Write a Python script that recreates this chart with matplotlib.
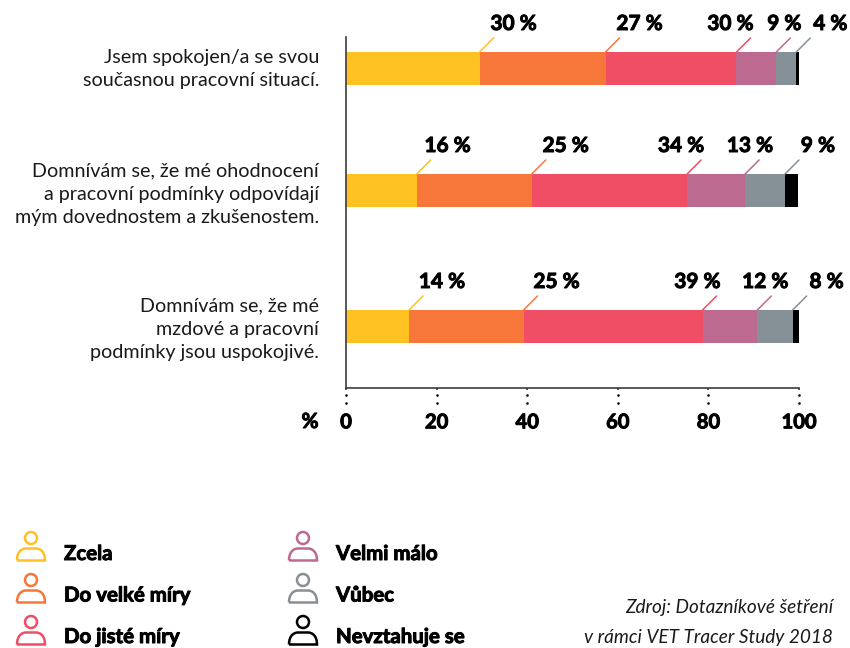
"""Spokojenost absolventů s pracovní situací - skládaný pruhový graf."""

import matplotlib
matplotlib.use('Agg')
import matplotlib.pyplot as plt
import matplotlib.patheffects as pe
from matplotlib.patches import Circle, PathPatch
from matplotlib.path import Path

# data
STATEMENTS = [
    'Jsem spokojen/a se svou\nsoučasnou pracovní situací.',
    'Domnívám se, že mé ohodnocení\na pracovní podmínky odpovídají\nmým dovednostem a zkušenostem.',
    'Domnívám se, že mé\nmzdové a pracovní\npodmínky jsou uspokojivé.',
]
CATEGORIES = ['Zcela', 'Do velké míry', 'Do jisté míry', 'Velmi málo', 'Vůbec', 'Nevztahuje se']
ZCELA = [29.5, 15.6, 13.9]
DO_VELKE_MIRY = [27.8, 25.4, 25.3]
DO_JISTE_MIRY = [28.9, 34.3, 39.5]
VELMI_MALO = [8.8, 12.8, 12.1]
VUBEC = [4.4, 8.8, 7.8]
NEVZTAHUJE_SE = [0.6, 2.9, 1.3]
LABELS = [
    ['30 %', '27 %', '30 %', '9 %', '4 %'],
    ['16 %', '25 %', '34 %', '13 %', '9 %'],
    ['14 %', '25 %', '39 %', '12 %', '8 %'],
]
X_TICKS = [0, 20, 40, 60, 80, 100]
SOURCE_LINES = ['Zdroj: Dotazníkové šetření', 'v rámci VET Tracer Study 2018']

# vzhled
COLORS = ['#FFC222', '#F7773B', '#F04E64', '#BD6A91', '#859097', '#000000']
ROW_Y = [68.5, 190.5, 326.5]
TEXT_Y = [69, 194.5, 329.5]
BAR_H = 33
LEADER = 14
# posun popisku vůči konci odkazové čáry (px)
LABEL_DX = [
    [20, 20, -20, -6, 20],
    [17, 20, -20, -9, 19],
    [19, 19, -19, -6, 20],
]
HEAVY = [pe.withStroke(linewidth=0.7, foreground='black')]
W, H = 850, 648

plt.rcParams['font.family'] = ['Lato', 'DejaVu Sans']
fig = plt.figure(figsize=(W / 100, H / 100), dpi=100)

# osa s pruhy, y je v pixelech obrázku
ax = fig.add_axes([346 / W, (H - 388) / H, 453 / W, 351 / H])
ax.set_xlim(0, 100)
ax.set_ylim(388, 37)
ax.patch.set_alpha(0)

series = [ZCELA, DO_VELKE_MIRY, DO_JISTE_MIRY, VELMI_MALO, VUBEC, NEVZTAHUJE_SE]
left = [0.0] * len(ROW_Y)
for i, (values, color) in enumerate(zip(series, COLORS)):
    ax.barh(ROW_Y, values, left=left, height=BAR_H, color=color, linewidth=0, zorder=2)
    left = [a + b for a, b in zip(left, values)]
    if i == len(series) - 1:
        break
    # odkazové čáry a popisky
    for r, y in enumerate(ROW_Y):
        top = y - BAR_H / 2
        ax.annotate('', xy=(left[r], top), xytext=(LEADER, LEADER), textcoords='offset pixels',
                    annotation_clip=False,
                    arrowprops=dict(arrowstyle='-', color=color, lw=1.1, shrinkA=0, shrinkB=0))
        ax.annotate(LABELS[r][i], xy=(left[r], top),
                    xytext=(LEADER + LABEL_DX[r][i], 28), textcoords='offset pixels',
                    ha='center', va='center', fontsize=15, fontweight='bold', color='black',
                    annotation_clip=False, path_effects=HEAVY)

for side in ['top', 'right']:
    ax.spines[side].set_visible(False)
for side in ['left', 'bottom']:
    ax.spines[side].set_color('#3c3c3c')
    ax.spines[side].set_linewidth(1.2)

ax.set_yticks([])
ax.set_xticks(X_TICKS)
ax.set_xticklabels([str(t) for t in X_TICKS], fontsize=14.5, fontweight='bold',
                   path_effects=HEAVY)
ax.tick_params(axis='x', length=1.5, width=1.2, color='#3c3c3c', pad=16)
# tečkované prodloužení značek
for t in X_TICKS:
    ax.plot([t, t], [395, 403], ls='none', marker='o', ms=1.9, color='#111111',
            mec='none', clip_on=False)

for y, text in zip(TEXT_Y, STATEMENTS):
    ax.text(-27 / 4.53, y, text, ha='right', va='center', fontsize=14.25, color='#1a1a1a',
            linespacing=1.45)

# překryvná osa v pixelech pro legendu a zdroj
over = fig.add_axes([0, 0, 1, 1])
over.set_xlim(0, W)
over.set_ylim(H, 0)
over.axis('off')
over.patch.set_alpha(0)


def draw_person(x, y, color):
    """Ikona osoby, y je horní okraj hlavy."""
    over.add_patch(Circle((x, y + 6.5), 6, fill=False, ec=color, lw=1.8))
    top = y + 17
    bottom = y + 29
    verts = [(x - 14, bottom), (x - 14, top + 3), (x - 9, top), (x - 5, top), (x + 5, top),
             (x + 9, top), (x + 14, top + 3), (x + 14, bottom), (x - 14, bottom)]
    codes = [Path.MOVETO, Path.CURVE4, Path.CURVE4, Path.CURVE4, Path.LINETO,
             Path.CURVE4, Path.CURVE4, Path.CURVE4, Path.LINETO]
    over.add_patch(PathPatch(Path(verts, codes), fill=False, ec=color, lw=1.8))


for i, (name, color) in enumerate(zip(CATEGORIES, COLORS)):
    col, row = i // 3, i % 3
    icon_x = 31 + col * 272
    draw_person(icon_x, 531.5 + row * 42, color)
    over.text(64 + col * 272, 554 + row * 41.5, name, ha='left', va='center', fontsize=14.7,
              fontweight='bold', color='black', path_effects=HEAVY)

over.text(310, 422, '%', ha='center', va='center', fontsize=15, fontweight='bold', color='black',
          path_effects=HEAVY)
for y, line in zip([608, 637], SOURCE_LINES):
    over.text(833, y, line, ha='right', va='center', fontsize=13.7, style='italic', color='#1a1a1a')

fig.savefig('out.png', dpi=100)
